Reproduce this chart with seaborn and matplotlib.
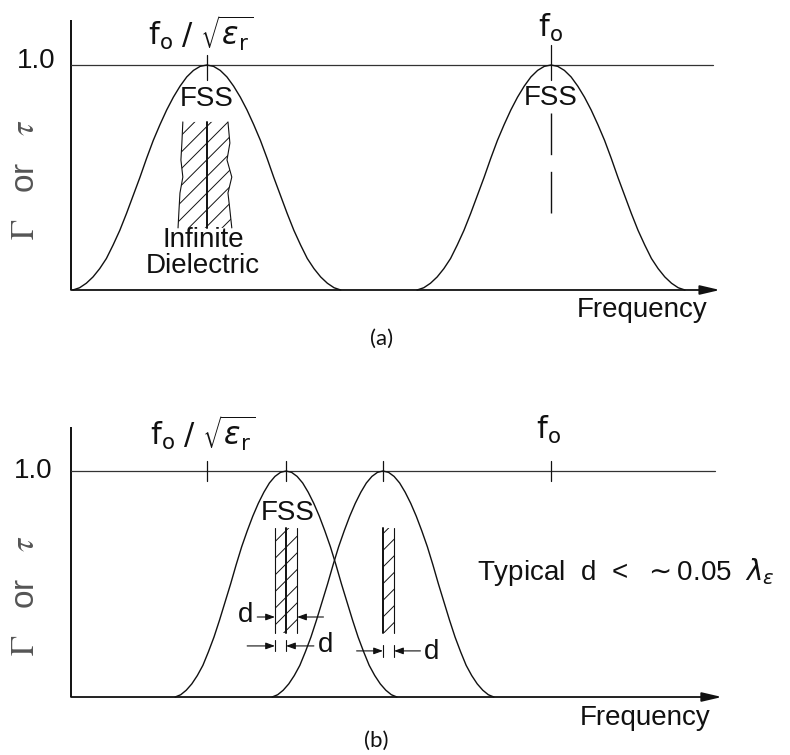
import numpy as np
import pandas as pd
import matplotlib
matplotlib.use("Agg")
import matplotlib.pyplot as plt
import seaborn as sns

# Resonance shape: level versus offset from the centre, in units of the half-width
profile_offset = [0.00, 0.05, 0.10, 0.15, 0.20, 0.25, 0.30, 0.35, 0.40, 0.45, 0.50,
                  0.55, 0.60, 0.65, 0.70, 0.75, 0.80, 0.85, 0.90, 0.95, 1.00]
profile_level = [1.000, 0.994, 0.976, 0.947, 0.906, 0.857, 0.800, 0.735, 0.665, 0.585, 0.500,
                 0.420, 0.340, 0.265, 0.200, 0.140, 0.095, 0.058, 0.030, 0.010, 0.000]

# Reference frequencies (f_o normalised to 1): f_o/sqrt(eps_r) and f_o
f_ref = [0.283, 1.0]

# (a) FSS inside an infinite dielectric and free-standing FSS
peaks_a = [0.283, 1.0]
halfwidth_a = 0.279

# (b) FSS with thin dielectric slabs
peaks_b = [0.448, 0.65]
halfwidth_b = 0.231
slab_d = 0.023
slab_b_span = [0.283, 0.748]

# (a) infinite dielectric block: wavy edges relative to the FSS position
slab_a_level = [0.276, 0.356, 0.431, 0.502, 0.578, 0.653, 0.747]
slab_a_left = [-0.060, -0.058, -0.056, -0.050, -0.054, -0.052, -0.050]
slab_a_right = [0.052, 0.048, 0.044, 0.052, 0.042, 0.048, 0.044]

sns.set_theme(style="white")
plt.rcParams["font.family"] = ["Liberation Sans", "DejaVu Sans"]
plt.rcParams["mathtext.fontset"] = "custom"
plt.rcParams["mathtext.rm"] = "Liberation Sans"
plt.rcParams["mathtext.it"] = "Liberation Sans:italic"
plt.rcParams["mathtext.bf"] = "Liberation Sans:bold"
plt.rcParams["hatch.linewidth"] = 0.7
plt.rcParams["hatch.color"] = "black"

INK = "#111111"
FS = 20
FREQ_LABEL = r"$\mathrm{f}_{\mathrm{o}}$ $/$ $\sqrt{\epsilon_{\mathrm{r}}}$"
F0_LABEL = r"$\mathrm{f}_{\mathrm{o}}$"
Y_LABEL = r"$\Gamma$   or   $\tau$"


def curve_frame(peaks, halfwidth):
    u = np.array(profile_offset)
    h = np.array(profile_level)
    uu = np.concatenate([-u[::-1], u[1:]])
    hh = np.concatenate([h[::-1], h[1:]])
    rows = []
    for i, c in enumerate(peaks):
        rows.append(pd.DataFrame({"freq": c + uu * halfwidth, "level": hh, "curve": i}))
    return pd.concat(rows, ignore_index=True)


def frame_axes(ax, x_end, top, line_end):
    # vertical axis, frequency axis with arrow, and the unity line
    ax.plot([0, 0], [0, top], color=INK, lw=1.4, solid_capstyle="butt")
    ax.annotate("", xy=(x_end, 0), xytext=(0, 0),
                arrowprops=dict(arrowstyle="-|>,head_length=1.2,head_width=0.28",
                                mutation_scale=10, lw=1.3, color=INK,
                                shrinkA=0, shrinkB=0))
    ax.plot([0, line_end], [1.0, 1.0], color="#333333", lw=0.9)


def dim_arrow(ax, tail, head, y):
    ax.annotate("", xy=(head, y), xytext=(tail, y),
                arrowprops=dict(arrowstyle="-|>,head_length=0.55,head_width=0.2",
                                mutation_scale=10, lw=0.8, color=INK,
                                shrinkA=0, shrinkB=0))


fig = plt.figure(figsize=(7.9, 7.55), dpi=100)
split = 377 / 755
ax_a = fig.add_axes([0, 1 - split, 1, split])
ax_b = fig.add_axes([0, 0, 1, 1 - split])
for ax in (ax_a, ax_b):
    ax.set_axis_off()
    ax.set_xlim(-71 / 480, 719 / 480)
ax_a.set_ylim(-0.3867, 1.2889)
ax_b.set_ylim(-0.2566, 1.4159)

# ---------------- panel (a) ----------------
ax = ax_a
frame_axes(ax, 1.352, 1.2, 1.3375)
sns.lineplot(data=curve_frame(peaks_a, halfwidth_a), x="freq", y="level", units="curve",
             estimator=None, sort=False, color=INK, lw=1.0, ax=ax, legend=False)

# tick marks at f_o/sqrt(eps_r) and f_o
ax.plot([f_ref[0], f_ref[0]], [1.044, 0.933], color=INK, lw=0.9)
ax.plot([f_ref[1], f_ref[1]], [1.089, 0.933], color=INK, lw=0.9)
# free-standing FSS drawn dashed
ax.plot([peaks_a[1], peaks_a[1]], [0.787, 0.276], color=INK, lw=1.0,
        dashes=(30, 12))

# infinite dielectric block with the FSS inside it
c = peaks_a[0]
lv = np.array(slab_a_level)
xl = c + np.array(slab_a_left)
xr = c + np.array(slab_a_right)
ax.fill_betweenx(lv, xl, xr, facecolor="none", edgecolor=INK, hatch="//", lw=0)
ax.plot(xl, lv, color=INK, lw=0.8)
ax.plot(xr, lv, color=INK, lw=0.8)
ax.plot([c, c], [lv[0], lv[-1]], color=INK, lw=1.4)

ax.text(-0.033, 1.018, "1.0", ha="right", va="center", fontsize=FS, color=INK)
ax.text(-0.094, 0.49, Y_LABEL, rotation=90, ha="center", va="center",
        fontsize=24, color="#555555", math_fontfamily="stix")
ax.text(0.271, 1.14, FREQ_LABEL, ha="center", va="center", fontsize=22,
        color=INK, math_fontfamily="dejavusans")
ax.text(0.998, 1.165, F0_LABEL, ha="center", va="center", fontsize=22,
        color=INK, math_fontfamily="dejavusans")
ax.text(peaks_a[0], 0.849, "FSS", ha="center", va="center", fontsize=FS, color=INK)
ax.text(peaks_a[1], 0.853, "FSS", ha="center", va="center", fontsize=FS, color=INK)
ax.text(0.275, 0.164, "Infinite\nDielectric", ha="center", va="center",
        fontsize=FS, color=INK, linespacing=1.0)
ax.text(1.19, -0.089, "Frequency", ha="center", va="center", fontsize=FS, color=INK)
ax.text(0.646, -0.218, "(a)", ha="center", va="center", fontsize=16,
        family="Lato", color=INK)

# ---------------- panel (b) ----------------
ax = ax_b
frame_axes(ax, 1.356, 1.195, 1.342)
sns.lineplot(data=curve_frame(peaks_b, halfwidth_b), x="freq", y="level", units="curve",
             estimator=None, sort=False, color=INK, lw=1.0, ax=ax, legend=False)

for x in f_ref + peaks_b:
    ax.plot([x, x], [1.044, 0.956], color=INK, lw=0.9)

lo, hi = slab_b_span
p1, p2 = peaks_b
# dielectric on both sides of the first FSS, on one side of the second
for x0, x1 in [(p1 - slab_d, p1), (p1, p1 + slab_d), (p2, p2 + slab_d)]:
    ax.fill_betweenx([lo, hi], [x0, x0], [x1, x1], facecolor="none",
                     edgecolor=INK, hatch="//", lw=0)
for x in [p1 - slab_d, p1 + slab_d, p2 + slab_d]:
    ax.plot([x, x], [lo, hi], color=INK, lw=0.8)
for x in [p1, p2]:
    ax.plot([x, x], [lo, hi], color=INK, lw=1.4)

# thickness dimensions
y1, y2, y3 = 0.354, 0.226, 0.204
dim_arrow(ax, p1 - slab_d - 0.037, p1 - slab_d, y1)
dim_arrow(ax, p1 + slab_d + 0.055, p1 + slab_d, y1)
dim_arrow(ax, p1 - slab_d - 0.058, p1 - slab_d, y2)
dim_arrow(ax, p1 + 0.058, p1, y2)
dim_arrow(ax, p2 - 0.055, p2, y3)
dim_arrow(ax, p2 + slab_d + 0.055, p2 + slab_d, y3)
for x in [p1 - slab_d, p1]:
    ax.plot([x, x], [0.252, 0.205], color=INK, lw=0.8)
for x in [p2, p2 + slab_d]:
    ax.plot([x, x], [0.23, 0.177], color=INK, lw=0.8)
ax.text(p1 - slab_d - 0.045, y1 + 0.01, "d", ha="right", va="center", fontsize=FS, color=INK)
ax.text(p1 + 0.066, y2 + 0.005, "d", ha="left", va="center", fontsize=FS, color=INK)
ax.text(p2 + slab_d + 0.063, y3 - 0.005, "d", ha="left", va="center", fontsize=FS, color=INK)

ax.text(-0.0375, 1.0, "1.0", ha="right", va="center", fontsize=FS, color=INK)
ax.text(-0.094, 0.45, Y_LABEL, rotation=90, ha="center", va="center",
        fontsize=24, color="#555555", math_fontfamily="stix")
ax.text(0.275, 1.168, FREQ_LABEL, ha="center", va="center", fontsize=22,
        color=INK, math_fontfamily="dejavusans")
ax.text(0.994, 1.18, F0_LABEL, ha="center", va="center", fontsize=22,
        color=INK, math_fontfamily="dejavusans")
ax.text(0.452, 0.814, "FSS", ha="center", va="center", fontsize=FS, color=INK)
ax.text(0.845, 0.553, r"Typical  d  <  $\sim$0.05  $\lambda_{\epsilon}$",
        ha="left", va="center", fontsize=FS, color=INK, math_fontfamily="dejavusans")
ax.text(1.196, -0.093, "Frequency", ha="center", va="center", fontsize=FS, color=INK)
ax.text(0.635, -0.195, "(b)", ha="center", va="center", fontsize=16,
        family="Lato", color=INK)

fig.savefig("out.png", dpi=100, facecolor="white")
